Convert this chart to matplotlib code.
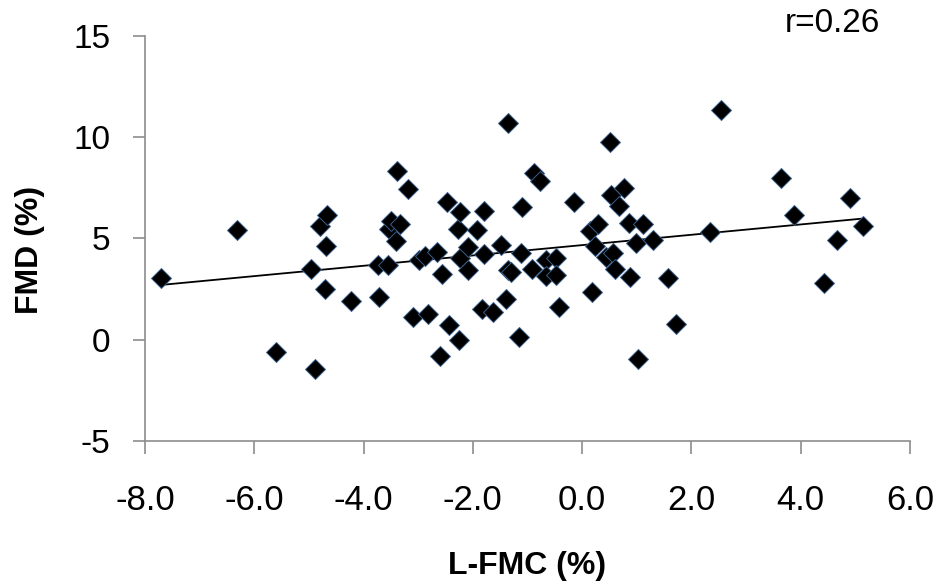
import numpy as np
import matplotlib
matplotlib.use("Agg")
from matplotlib import pyplot as plt

plt.rcParams['font.family'] = ['Liberation Sans', 'DejaVu Sans']

# L-FMC (%) and FMD (%)
lfmc = [-7.71, -6.32, -5.61, -4.89, -4.96, -4.80, -4.67, -4.68, -4.70, -4.23,
        -3.72, -3.73, -3.56, -3.54, -3.50, -3.34, -3.40, -3.39, -3.19, -3.09,
        -2.99, -2.87, -2.82, -2.66, -2.57, -2.61, -2.48, -2.43, -2.27, -2.24,
        -2.24, -2.26, -2.09, -2.09, -1.92, -1.80, -1.80, -1.83, -1.63, -1.48,
        -1.39, -1.36, -1.36, -1.30, -1.11, -1.16, -1.10, -0.91, -0.88, -0.78,
        -0.66, -0.48, -0.66, -0.48, -0.43, -0.14, 0.18, 0.15, 0.29, 0.23,
        0.44, 0.57, 0.61, 0.51, 0.53, 0.76, 0.68, 0.85, 1.12, 0.88,
        0.99, 1.29, 1.03, 1.57, 1.72, 2.34, 2.55, 3.64, 3.88, 4.43,
        4.67, 4.90, 5.14]
fmd = [3.02, 5.41, -0.64, -1.44, 3.51, 5.61, 6.14, 4.62, 2.48, 1.91,
       2.08, 3.68, 3.68, 5.45, 5.88, 5.73, 4.88, 8.35, 7.44, 1.12,
       3.94, 4.15, 1.24, 4.34, 3.25, -0.80, 6.78, 0.71, 5.46, 6.30,
       4.03, 0.00, 4.58, 3.43, 5.41, 6.35, 4.22, 1.53, 1.37, 4.68,
       1.98, 10.69, 3.43, 3.33, 4.29, 0.13, 6.57, 3.47, 8.25, 7.85,
       3.93, 4.01, 3.13, 3.18, 1.61, 6.81, 2.36, 5.36, 5.71, 4.62,
       4.09, 4.29, 3.51, 9.78, 7.14, 7.48, 6.60, 5.74, 5.71, 3.07,
       4.78, 4.92, -0.94, 3.02, 0.79, 5.33, 11.32, 7.97, 6.15, 2.77,
       4.92, 6.98, 5.63]

x_ticks = [-8, -6, -4, -2, 0, 2, 4, 6]
y_ticks = [-5, 0, 5, 10, 15]

x = np.array(lfmc)
y = np.array(fmd)
slope, intercept = np.polyfit(x, y, 1)
xl = np.array([x.min(), x.max()])

fig = plt.figure(figsize=(9.38, 5.84), dpi=100)
ax = fig.add_axes([145 / 938, 1 - 440.7 / 584, (910 - 145) / 938, (440.7 - 36) / 584])

ax.plot(xl, slope * xl + intercept, color='black', lw=1.3, zorder=2)
ax.plot(x, y, linestyle='none', marker='D', markersize=10.5,
        markerfacecolor='black', markeredgecolor='#3a5f8a', markeredgewidth=0.7, zorder=3)

ax.set_xlim(-8, 6)
ax.set_ylim(-5, 15)
ax.set_xticks(x_ticks)
ax.set_xticklabels([f"{v:.1f}" for v in x_ticks])
ax.set_yticks(y_ticks)
ax.set_yticklabels([str(v) for v in y_ticks])

for side in ['top', 'right']:
    ax.spines[side].set_visible(False)
for side in ['left', 'bottom']:
    ax.spines[side].set_color('#8c8c8c')
    ax.spines[side].set_linewidth(1.2)
ax.tick_params(axis='both', direction='out', length=9, width=1.2, color='#8c8c8c',
               labelsize=24)
ax.tick_params(axis='y', pad=16)
ax.tick_params(axis='x', pad=22, labelsize=25)

fig.text(527 / 938, 1 - 566 / 584, 'L-FMC (%)', ha='center', va='center',
         fontsize=23, fontweight='bold')
fig.text(30 / 938, 1 - 250 / 584, 'FMD (%)', ha='center', va='center',
         rotation=90, fontsize=23, fontweight='bold')
fig.text(880 / 938, 1 - 23 / 584, 'r=0.26', ha='right', va='center', fontsize=24)

fig.savefig('out.png', dpi=100)
